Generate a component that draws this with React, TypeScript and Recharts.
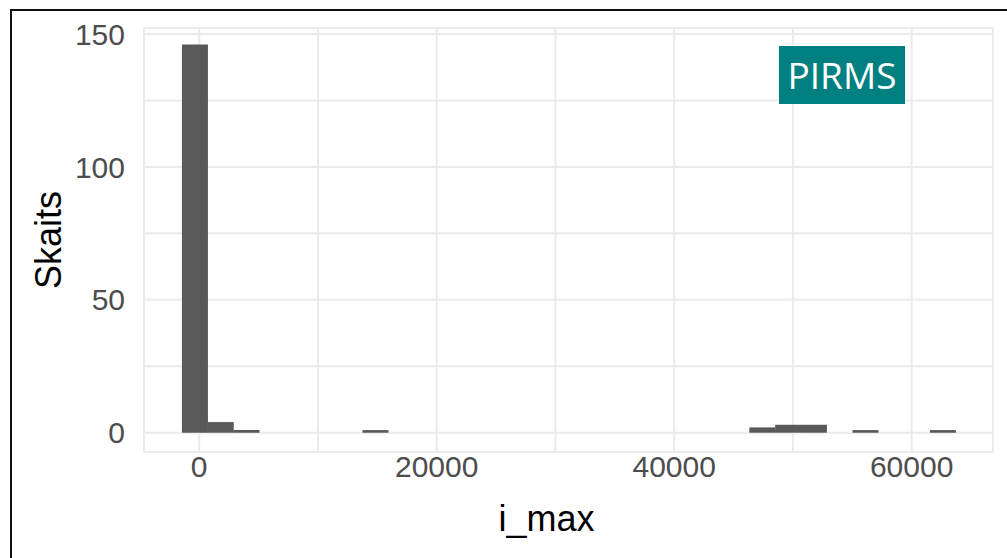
import { ComposedChart, Bar, XAxis, YAxis, CartesianGrid } from "recharts";

// histogram of i_max, 30 bins (bin width ~2172)
const binCenters = [
  -368, 1804, 3976, 6148, 8320, 10492, 12664, 14836, 17008, 19180, 21352, 23524, 25696, 27868, 30040,
  32212, 34384, 36556, 38728, 40900, 43072, 45244, 47416, 49588, 51760, 53932, 56104, 58276, 60448, 62620,
];
const counts = [146, 4, 1, 0, 0, 0, 0, 1, 0, 0, 0, 0, 0, 0, 0, 0, 0, 0, 0, 0, 0, 0, 2, 3, 3, 0, 1, 0, 0, 1];

const xTicks = [0, 10000, 20000, 30000, 40000, 50000, 60000];
const yTicks = [0, 25, 50, 75, 100, 125, 150];

const data = binCenters.map((x, i) => ({ x, count: counts[i] }));

const FONT = "'Liberation Sans', Arial, sans-serif";

export default function App() {
  return (
    <div style={{ position: "absolute", left: 0, top: 0, width: 1007, height: 558, background: "#fff" }}>
      {/* screenshot frame */}
      <div style={{ position: "absolute", left: 10, top: 9, right: 0, bottom: 0, borderLeft: "2px solid #111", borderTop: "2px solid #111" }} />

      <div style={{ position: "absolute", left: 0, top: 0 }}>
        <ComposedChart
          width={1007}
          height={558}
          data={data}
          barCategoryGap={0}
          margin={{ top: 28, right: 14, left: 0, bottom: 46 }}
        >
          <CartesianGrid stroke="#EBEBEB" strokeWidth={2} />
          <XAxis
            dataKey="x"
            type="number"
            domain={[-4650, 66850]}
            allowDataOverflow
            ticks={xTicks}
            tickFormatter={(v: number) => (v % 20000 === 0 ? String(v) : "")}
            axisLine={false}
            tickLine={false}
            tickSize={0}
            tickMargin={4}
            height={60}
            tick={{ fontSize: 30, fill: "#4D4D4D", fontFamily: FONT }}
            label={{
              content: (p: any) => {
                const vb = p.viewBox;
                return (
                  <text
                    x={vb.x + vb.width / 2 - 22}
                    y={531}
                    textAnchor="middle"
                    fontSize={36}
                    fontFamily={FONT}
                    fill="#000"
                  >
                    i_max
                  </text>
                );
              },
            }}
          />
          <YAxis
            type="number"
            domain={[-7.25, 152.25]}
            allowDataOverflow
            ticks={yTicks}
            tickFormatter={(v: number) => (v % 50 === 0 ? String(v) : "")}
            axisLine={false}
            tickLine={false}
            tickSize={0}
            tickMargin={19}
            width={144}
            tick={{ fontSize: 30, fill: "#4D4D4D", fontFamily: FONT }}
            label={{
              content: (p: any) => {
                const vb = p.viewBox;
                const cy = vb.y + vb.height / 2;
                return (
                  <text
                    x={48}
                    y={cy}
                    transform={`rotate(-90, 48, ${cy})`}
                    textAnchor="middle"
                    dominantBaseline="central"
                    fontSize={36}
                    fontFamily={FONT}
                    fill="#000"
                  >
                    Skaits
                  </text>
                );
              },
            }}
          />
          <Bar dataKey="count" fill="#595959" isAnimationActive={false} />
        </ComposedChart>
      </div>

      {/* annotation box */}
      <div
        style={{
          position: "absolute",
          left: 779,
          top: 46,
          width: 126,
          height: 58,
          background: "#008080",
          color: "#fff",
          fontFamily: "'Open Sans', 'Noto Sans', sans-serif",
          fontSize: 37,
          lineHeight: "58px",
          textAlign: "center",
        }}
      >
        PIRMS
      </div>
    </div>
  );
}
